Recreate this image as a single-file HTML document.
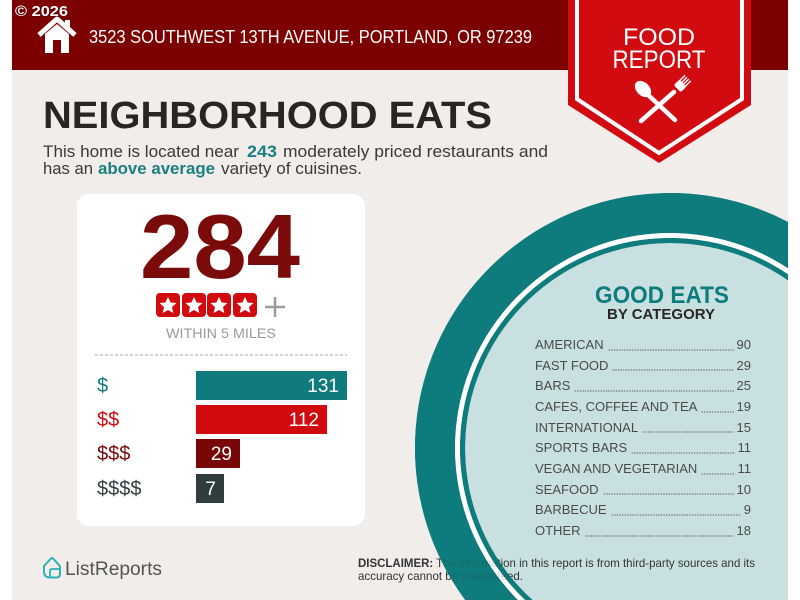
<!DOCTYPE html>
<html><head><meta charset="utf-8"><style>
html,body{margin:0;padding:0;background:#fff;width:800px;height:600px;overflow:hidden;}
#wrap{position:relative;width:800px;height:600px;overflow:hidden;font-family:"Liberation Sans",Arial,sans-serif;}
svg{position:absolute;left:0;top:0;display:block;}
#list{position:absolute;left:535px;top:335px;width:216px;font-size:13px;color:#4a4a4a;}
.row{display:flex;align-items:flex-end;height:20.67px;line-height:20.67px;white-space:nowrap;overflow:hidden;}
.ld{flex:1;margin:0 3px 5px 4px;height:2px;background-image:radial-gradient(circle,#6f6f6f 0.55px,rgba(0,0,0,0) 0.9px);background-size:2.6px 2px;background-repeat:repeat-x;}
</style></head><body><div id="wrap">
<svg width="800" height="600" viewBox="0 0 800 600" xmlns="http://www.w3.org/2000/svg" font-family="Liberation Sans, Arial, sans-serif">
<rect x="0" y="0" width="800" height="600" fill="#ffffff"/>
<rect x="12" y="70" width="776" height="530" fill="#f1edea"/>
<rect x="12" y="0" width="776" height="70" fill="#7d0000"/>
<!-- house -->
<polyline points="39,35 57,19 75,35" fill="none" stroke="#fff" stroke-width="5" stroke-linejoin="miter"/>
<rect x="65" y="20" width="5" height="10" fill="#fff"/>
<polygon points="45,34 57,24 69,34 69,53 45,53" fill="#fff"/>
<rect x="53" y="40" width="8" height="13" fill="#7d0000"/>
<text x="16" y="17" font-size="15" font-weight="bold" fill="#3a0000" opacity="0.6" textLength="53" lengthAdjust="spacingAndGlyphs">© 2026</text>
<text x="15" y="16" font-size="15" font-weight="bold" fill="#fff" textLength="53" lengthAdjust="spacingAndGlyphs">© 2026</text>
<text x="89" y="43" font-size="18" fill="#fff" textLength="443" lengthAdjust="spacingAndGlyphs">3523 SOUTHWEST 13TH AVENUE, PORTLAND, OR 97239</text>
<!-- badge -->
<polygon points="568,0 751,0 751,105 659,163 568,105" fill="#d20b10"/>
<polyline points="577,0 577,99 659,153 742,99 742,0" fill="none" stroke="#fff" stroke-width="4"/>
<text x="659" y="45" font-size="24" fill="#fff" text-anchor="middle" textLength="72" lengthAdjust="spacingAndGlyphs">FOOD</text>
<text x="659" y="68" font-size="25" fill="#fff" text-anchor="middle" textLength="93" lengthAdjust="spacingAndGlyphs">REPORT</text>
<ellipse cx="643" cy="89" rx="6.5" ry="9.5" transform="rotate(-45 643 89)" fill="#fff"/>
<line x1="646" y1="93" x2="675" y2="120" stroke="#fff" stroke-width="4.5" stroke-linecap="round"/>
<line x1="674" y1="92" x2="641" y2="121" stroke="#fff" stroke-width="4.5" stroke-linecap="round"/>
<g transform="rotate(45 678 88)" fill="#fff" stroke="#fff">
<rect x="673" y="81" width="10" height="8" rx="2" stroke="none"/>
<line x1="674" y1="74" x2="674" y2="82" stroke-width="1.4"/>
<line x1="676.7" y1="74" x2="676.7" y2="82" stroke-width="1.4"/>
<line x1="679.3" y1="74" x2="679.3" y2="82" stroke-width="1.4"/>
<line x1="682" y1="74" x2="682" y2="82" stroke-width="1.4"/>
</g>
<!-- title -->
<text x="43" y="128" font-size="38" font-weight="bold" fill="#2a2523" textLength="449" lengthAdjust="spacingAndGlyphs">NEIGHBORHOOD EATS</text>
<text x="43" y="157" font-size="17" fill="#3a3a3a" textLength="196" lengthAdjust="spacingAndGlyphs">This home is located near</text>
<text x="247" y="157" font-size="17" font-weight="bold" fill="#1a7f80" textLength="30" lengthAdjust="spacingAndGlyphs">243</text>
<text x="283" y="157" font-size="17" fill="#3a3a3a" textLength="265" lengthAdjust="spacingAndGlyphs">moderately priced restaurants and</text>
<text x="43" y="174" font-size="17" fill="#3a3a3a" textLength="50" lengthAdjust="spacingAndGlyphs">has an</text>
<text x="98" y="174" font-size="17" font-weight="bold" fill="#1a7f80" textLength="117" lengthAdjust="spacingAndGlyphs">above average</text>
<text x="221" y="174" font-size="17" fill="#3a3a3a" textLength="141" lengthAdjust="spacingAndGlyphs">variety of cuisines.</text>
<!-- card -->
<rect x="77" y="194" width="288" height="332" rx="12" fill="#fff"/>
<text x="220" y="278" font-size="91" font-weight="bold" fill="#7b0a0a" text-anchor="middle" textLength="160" lengthAdjust="spacingAndGlyphs">284</text>
<g fill="#d20b10">
<rect x="156" y="293" width="24" height="24" rx="4"/>
<rect x="182" y="293" width="24" height="24" rx="4"/>
<rect x="207" y="293" width="24" height="24" rx="4"/>
<rect x="233" y="293" width="24" height="24" rx="4"/>
</g>
<g fill="#fff">
<polygon points="168,297 170.6,302.5 176.5,303 172,307 173.3,313 168,310 162.7,313 164,307 159.5,303 165.4,302.5"/>
<polygon points="194,297 196.6,302.5 202.5,303 198,307 199.3,313 194,310 188.7,313 190,307 185.5,303 191.4,302.5"/>
<polygon points="219,297 221.6,302.5 227.5,303 223,307 224.3,313 219,310 213.7,313 215,307 210.5,303 216.4,302.5"/>
<polygon points="245,297 247.6,302.5 253.5,303 249,307 250.3,313 245,310 239.7,313 241,307 236.5,303 242.4,302.5"/>
</g>
<line x1="265" y1="307" x2="285" y2="307" stroke="#9a9a9a" stroke-width="2.5"/>
<line x1="275" y1="297" x2="275" y2="317" stroke="#9a9a9a" stroke-width="2.5"/>
<text x="221" y="338" font-size="14" fill="#9a9a9a" text-anchor="middle" textLength="110" lengthAdjust="spacingAndGlyphs">WITHIN 5 MILES</text>
<line x1="95" y1="355" x2="347" y2="355" stroke="#a8a8a8" stroke-width="1" stroke-dasharray="3 2"/>
<rect x="196" y="371" width="151" height="29" fill="#0f7b7c"/>
<rect x="196" y="405" width="131" height="29" fill="#d00a0f"/>
<rect x="196" y="439" width="44" height="29" fill="#780808"/>
<rect x="196" y="474" width="28" height="29" fill="#303d3f"/>
<text x="97" y="392" font-size="20" fill="#0f7b7c">$</text>
<text x="97" y="426" font-size="20" fill="#d00a0f">$$</text>
<text x="97" y="460" font-size="20" fill="#780808">$$$</text>
<text x="97" y="495" font-size="20" fill="#303d3f">$$$$</text>
<g font-size="19" fill="#fff" text-anchor="end">
<text x="339" y="392">131</text>
<text x="319" y="426">112</text>
<text x="232" y="460">29</text>
<text x="216" y="495">7</text>
</g>
<!-- circle (pre-clipped paths) -->
<path d="M788,221.95 A255,255 0 0 0 465.25,600 L788,600 Z" fill="#0e7b7c"/>
<path d="M788,268.28 A215,215 0 0 0 517.94,600 L788,600 Z" fill="#ffffff"/>
<path d="M788,274.29 A210,210 0 0 0 525.1,600 L788,600 Z" fill="#0e7b7c"/>
<path d="M788,280.37 A205,205 0 0 0 532.45,600 L788,600 Z" fill="#c8e1e0"/>
<text x="662" y="303" font-size="24" font-weight="bold" fill="#0e7b7c" text-anchor="middle" textLength="134" lengthAdjust="spacingAndGlyphs">GOOD EATS</text>
<text x="661" y="319" font-size="15" font-weight="bold" fill="#2a2523" text-anchor="middle" textLength="108" lengthAdjust="spacingAndGlyphs">BY CATEGORY</text>
<!-- disclaimer -->
<text x="358" y="567" font-size="12" fill="#333" textLength="397" lengthAdjust="spacingAndGlyphs"><tspan font-weight="bold">DISCLAIMER:</tspan> The information in this report is from third-party sources and its</text>
<text x="358" y="580" font-size="12" fill="#333" textLength="165" lengthAdjust="spacingAndGlyphs">accuracy cannot be guaranteed.</text>
<g opacity="0.78" fill-rule="evenodd">
<path d="M788,221.95 A255,255 0 0 0 465.25,600 L788,600 Z M788,268.28 A215,215 0 0 0 517.94,600 L788,600 Z" fill="#0e7b7c"/>
<path d="M788,268.28 A215,215 0 0 0 517.94,600 L788,600 Z M788,274.29 A210,210 0 0 0 525.1,600 L788,600 Z" fill="#ffffff"/>
<path d="M788,274.29 A210,210 0 0 0 525.1,600 L788,600 Z M788,280.37 A205,205 0 0 0 532.45,600 L788,600 Z" fill="#0e7b7c"/>
</g>
<!-- logo -->
<path d="M44,566 L51,558.5 Q52,557.5 53,558.5 L59,565 Q60,566 60,567.5 L60,574 Q60,577.5 56.5,577.5 L50,577.5 Q44,577.5 44,571.5 Z" fill="none" stroke="#2cb3b5" stroke-width="2"/>
<path d="M50,577 L50,571 Q50,569 52,569 L59.5,569" fill="none" stroke="#2cb3b5" stroke-width="1.8"/>
<text x="65" y="575" font-size="19" fill="#555" textLength="97" lengthAdjust="spacingAndGlyphs">ListReports</text>
</svg>
<div id="list">
<div class="row"><span>AMERICAN</span><span class="ld"></span><span>90</span></div>
<div class="row"><span>FAST FOOD</span><span class="ld"></span><span>29</span></div>
<div class="row"><span>BARS</span><span class="ld"></span><span>25</span></div>
<div class="row"><span>CAFES, COFFEE AND TEA</span><span class="ld"></span><span>19</span></div>
<div class="row"><span>INTERNATIONAL</span><span class="ld"></span><span>15</span></div>
<div class="row"><span>SPORTS BARS</span><span class="ld"></span><span>11</span></div>
<div class="row"><span>VEGAN AND VEGETARIAN</span><span class="ld"></span><span>11</span></div>
<div class="row"><span>SEAFOOD</span><span class="ld"></span><span>10</span></div>
<div class="row"><span>BARBECUE</span><span class="ld"></span><span>9</span></div>
<div class="row"><span>OTHER</span><span class="ld"></span><span>18</span></div>
</div>
</div></body></html>
